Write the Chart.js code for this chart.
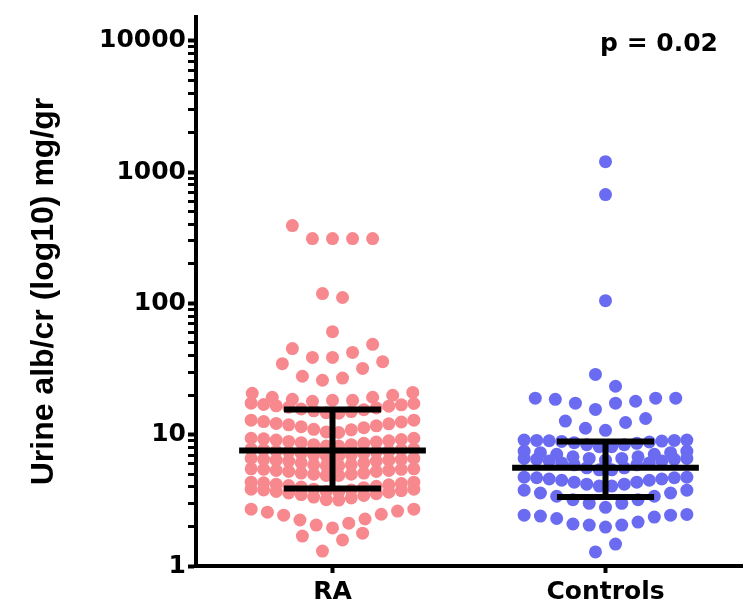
<!DOCTYPE html>
<html>
<head>
<meta charset="utf-8">
<script src="https://cdn.jsdelivr.net/npm/chart.js@4.4.1/dist/chart.umd.min.js"></script>
<style>
  html, body { margin: 0; padding: 0; background: #fff; }
  #plot { display: block; }
</style>
</head>
<body>
<canvas id="plot" width="750" height="615"></canvas>
<script>
// groups on the x axis
const groups = ['RA', 'Controls'];

// values, one array per swarm row (left to right)
const raRows = [
  [392, 312, 312, 312, 312],
  [119, 111],
  [61],
  [45.3, 38.8, 38.8, 42.4, 48.8],
  [34.8, 27.9, 26, 27, 32, 36],
  [20.7, 19.3, 18.6, 18.0, 18.3, 18.3, 19.3, 20, 21],
  [17.4, 17.0, 16.6, 16.2, 15.7, 15.2, 14.7, 14.6, 15.0, 15.5, 16.0, 16.5, 16.9, 17.3],
  [12.9, 12.6, 12.2, 11.9, 11.5, 11.0, 10.5, 10.4, 10.9, 11.3, 11.7, 12.1, 12.5, 12.9],
  [9.4, 9.3, 9.1, 8.9, 8.7, 8.4, 8.2, 8.2, 8.4, 8.6, 8.8, 9.0, 9.2, 9.4],
  [7.8, 7.7, 7.5, 7.4, 7.2, 7.0, 6.9, 6.9, 7.0, 7.2, 7.4, 7.5, 7.7, 7.8],
  [6.6, 6.5, 6.4, 6.3, 6.1, 5.9, 5.8, 5.8, 5.9, 6.1, 6.3, 6.4, 6.5, 6.6],
  [5.5, 5.45, 5.35, 5.25, 5.1, 5.0, 4.9, 4.9, 5.0, 5.1, 5.25, 5.35, 5.45, 5.5],
  [4.35, 4.3, 4.2, 4.1, 4.0, 3.85, 3.7, 3.66, 3.8, 3.95, 4.05, 4.15, 4.25, 4.35],
  [3.85, 3.8, 3.7, 3.6, 3.5, 3.35, 3.2, 3.18, 3.3, 3.45, 3.55, 3.65, 3.75, 3.85],
  [2.71, 2.57, 2.44, 2.24, 2.05, 1.95, 2.12, 2.28, 2.48, 2.62, 2.71],
  [1.69, 1.30, 1.58, 1.78]
];

const controlRows = [
  [1202],
  [675],
  [105],
  [28.8, 23.4],
  [19, 18.6, 17.4, 15.6, 17.4, 18, 19, 19],
  [12.7, 11.2, 10.8, 12.4, 13.3],
  [9.1, 9.05, 9.0, 8.9, 8.7, 8.4, 8.1, 8.1, 8.4, 8.6, 8.8, 8.95, 9.05, 9.1],
  [7.5, 7.3, 7.1, 6.8, 6.6, 6.4, 6.6, 6.8, 7.1, 7.3, 7.5],
  [6.6, 6.5, 6.3, 6.1, 5.9, 5.6, 5.4, 5.4, 5.6, 5.9, 6.1, 6.3, 6.5, 6.6],
  [4.75, 4.7, 4.6, 4.5, 4.35, 4.2, 4.06, 4.06, 4.2, 4.35, 4.5, 4.6, 4.7, 4.75],
  [3.78, 3.6, 3.4, 3.2, 3.0, 2.8, 3.0, 3.2, 3.4, 3.6, 3.78],
  [2.44, 2.40, 2.30, 2.09, 2.05, 1.98, 2.05, 2.16, 2.36, 2.44, 2.47],
  [1.28, 1.47]
];

// median and interquartile range drawn as bars: [q1, median, q3]
const raStats = [3.9, 7.6, 15.6];
const controlStats = [3.35, 5.6, 8.9];

const majorTicks = [1, 10, 100, 1000, 10000];
const pText = 'p = 0.02';

// swarm layout (x units, 1 unit = distance between the two groups)
const DOT_STEP = 0.0735;
const ROW_SPREAD = 0.596;

function swarm(rows, center) {
  const pts = [];
  rows.forEach(function (row) {
    const n = row.length;
    const step = n > 1 ? Math.min(DOT_STEP, ROW_SPREAD / (n - 1)) : 0;
    row.forEach(function (v, i) {
      pts.push({ x: center + (i - (n - 1) / 2) * step, y: v });
    });
  });
  return pts;
}

function segment(x1, x2, y1, y2) {
  return {
    type: 'scatter',
    data: [{ x: x1, y: y1 }, { x: x2, y: y2 }],
    showLine: true,
    borderColor: '#000',
    borderWidth: 6,
    borderCapStyle: 'butt',
    pointRadius: 0,
    order: 0
  };
}

function statBars(stats, center) {
  const wide = 0.342, narrow = 0.178;
  return [
    segment(center - wide, center + wide, stats[1], stats[1]),
    segment(center - narrow, center + narrow, stats[0], stats[0]),
    segment(center - narrow, center + narrow, stats[2], stats[2]),
    segment(center, center, stats[0], stats[2])
  ];
}

// all y ticks, 1..9 in each decade up to 10000
const yTicks = [];
for (let d = 0; d < majorTicks.length - 1; d++) {
  for (let k = 1; k < 10; k++) yTicks.push(majorTicks[d] * k);
}
yTicks.push(majorTicks[majorTicks.length - 1]);

const pValuePlugin = {
  id: 'pValue',
  afterDraw(chart) {
    const c = chart.ctx;
    c.save();
    c.font = 'bold 25px "DejaVu Sans"';
    c.fillStyle = '#000';
    c.textAlign = 'right';
    c.textBaseline = 'middle';
    c.fillText(pText, chart.chartArea.right - 24, chart.chartArea.top + 27);
    c.restore();
  }
};

const ctx = document.getElementById('plot').getContext('2d');
const chart = new Chart(ctx, {
  type: 'scatter',
  data: {
    datasets: [
      ...statBars(raStats, 0),
      ...statBars(controlStats, 1),
      {
        label: groups[0],
        data: swarm(raRows, 0),
        backgroundColor: '#f7898e',
        borderWidth: 0,
        pointRadius: 6.5,
        order: 1
      },
      {
        label: groups[1],
        data: swarm(controlRows, 1),
        backgroundColor: '#6b6bf2',
        borderWidth: 0,
        pointRadius: 6.5,
        order: 1
      }
    ]
  },
  options: {
    responsive: false,
    animation: false,
    devicePixelRatio: 1,
    layout: { padding: { top: 16, right: 8, left: 0, bottom: 0 } },
    plugins: {
      legend: { display: false },
      tooltip: { enabled: false }
    },
    scales: {
      x: {
        type: 'linear',
        min: -0.5,
        max: 1.5,
        afterBuildTicks: function (scale) {
          scale.ticks = groups.map((g, i) => ({ value: i }));
        },
        afterFit: function (scale) { scale.height = 49; },
        ticks: {
          color: '#000',
          font: { family: 'DejaVu Sans', size: 25, weight: 'bold' },
          padding: 4,
          maxRotation: 0,
          callback: function (val) { return groups[val]; }
        },
        grid: {
          drawOnChartArea: false,
          drawTicks: true,
          tickLength: 7,
          tickWidth: 4,
          tickColor: '#000'
        },
        border: { display: true, width: 4, color: '#000' }
      },
      y: {
        type: 'logarithmic',
        min: 1,
        max: 15220,
        afterBuildTicks: function (scale) {
          scale.ticks = yTicks.map(v => ({ value: v, major: majorTicks.includes(v) }));
        },
        afterFit: function (scale) { scale.width = 196; },
        ticks: {
          color: '#000',
          autoSkip: false,
          font: { family: 'DejaVu Sans', size: 25, weight: 'bold' },
          padding: 2,
          callback: function (val) {
            return majorTicks.includes(val) ? String(val) : '';
          }
        },
        grid: {
          drawOnChartArea: false,
          drawTicks: true,
          tickLength: 8,
          tickWidth: function (c) { return c.tick && c.tick.major ? 4 : 3; },
          tickColor: '#000'
        },
        border: { display: true, width: 4, color: '#000' },
        title: {
          display: true,
          text: 'Urine alb/cr (log10) mg/gr',
          color: '#000',
          font: { family: 'Liberation Sans', size: 32, weight: 'bold' },
          padding: { top: 25, bottom: 0 }
        }
      }
    }
  },
  plugins: [pValuePlugin]
});
</script>
</body>
</html>
